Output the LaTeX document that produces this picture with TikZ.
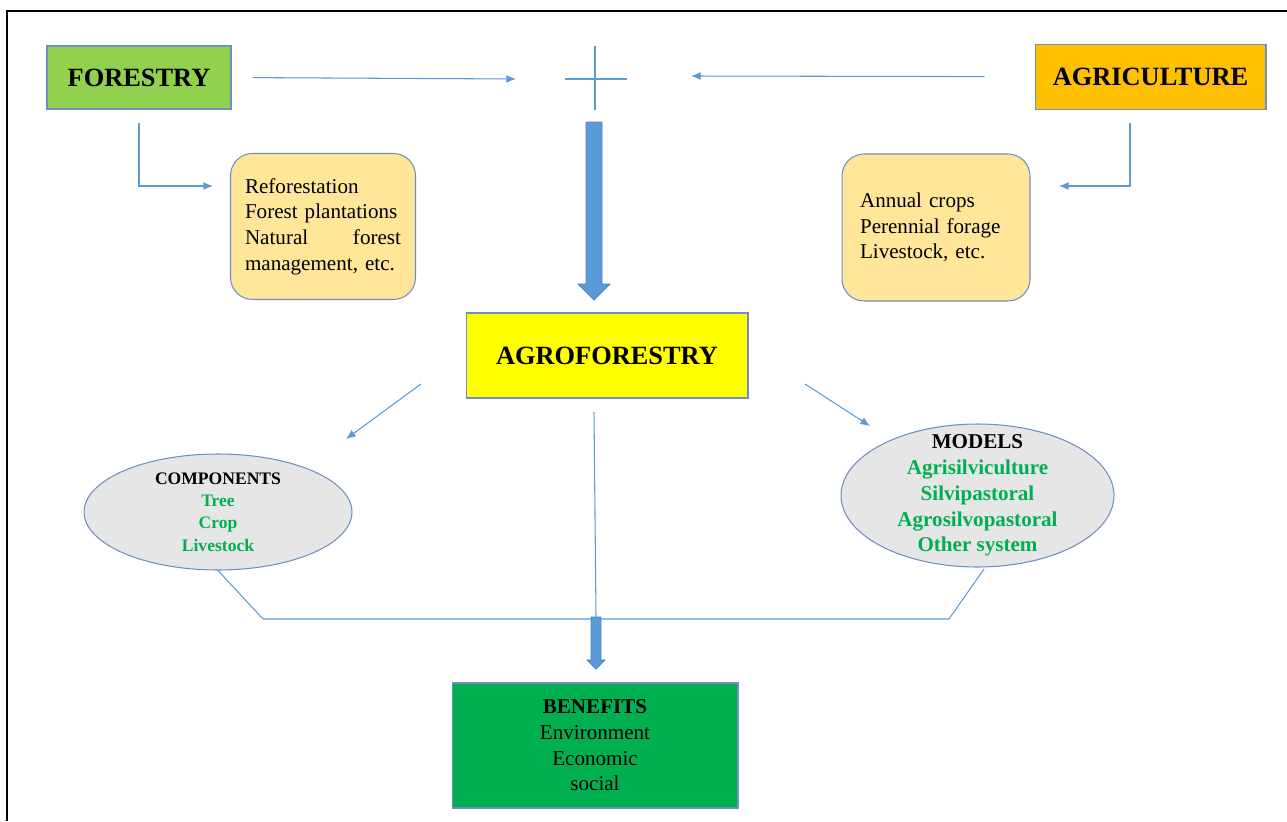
\documentclass[tikz,border=0pt]{standalone}
\usepackage{fontspec}
\setmainfont{Liberation Serif}
\usetikzlibrary{calc}
\usetikzlibrary{arrows.meta}
\usetikzlibrary{shapes.geometric}
\tikzset{>={Latex[length=5.5pt,width=4.5pt]}}
\definecolor{forestgreen}{HTML}{92D050}
\definecolor{agrigold}{HTML}{FFC000}
\definecolor{paleorange}{HTML}{FFE699}
\definecolor{agroyellow}{HTML}{FFFF00}
\definecolor{ellgray}{HTML}{E7E6E6}
\definecolor{benefitgreen}{HTML}{00B050}
\definecolor{textgreen}{HTML}{00B050}
\definecolor{linkblue}{HTML}{5B9BD5}
\definecolor{linkedge}{HTML}{4A86C0}
\definecolor{edgeblue}{HTML}{6F8FC0}
\tikzset{
	box/.style={draw=edgeblue,line width=0.6pt,inner sep=0pt},
	title/.style={font={\fontsize{15}{18}\selectfont\bfseries}},
	body/.style={font={\fontsize{12}{14.6}\selectfont}},
	link/.style={draw=linkblue,line width=0.6pt},
	fat/.style={fill=linkblue,draw=linkedge,line width=0.5pt},
	oval/.style={ellipse,draw=edgeblue,fill=ellgray,line width=0.6pt,inner xsep=0pt,align=center}
}

\begin{document}
\begin{tikzpicture}[x=0.02cm,y=-0.02cm]
		\useasboundingbox (0,0) rectangle (1287,821);
		\draw[line width=1.2pt] (7,821) -- (7,11) -- (1287,11);

		\node[box,title,fill=forestgreen,minimum width=3.68cm,minimum height=1.26cm] (forestry) at (139,77.5) {FORESTRY};
		\node[box,title,fill=agrigold,minimum width=4.62cm,minimum height=1.30cm] (agriculture) at (1150.5,76.7) {AGRICULTURE};
		\node[box,body,rounded corners=0.44cm,fill=paleorange,minimum height=2.92cm,text width=3.12cm,inner xsep=0.29cm,align=left] (forestuse) at (323,226.5) {Reforestation\\Forest plantations\\Natural\hfill forest\\management, etc.};
		\node[box,body,rounded corners=0.44cm,fill=paleorange,minimum height=2.94cm,text width=3.04cm,inner xsep=0.36cm,align=left] (agriuse) at (936,227.5) {Annual crops\\Perennial forage\\Livestock, etc.};
		\node[box,title,fill=agroyellow,minimum width=5.64cm,minimum height=1.70cm] (agroforestry) at (607,355.5) {AGROFORESTRY};
		\node[oval,inner ysep=-0.12cm,minimum width=5.36cm,minimum height=2.32cm,font={\fontsize{10}{12.75}\selectfont\bfseries}] (components) at (218,512) {COMPONENTS\\\textcolor{textgreen}{Tree}\\\textcolor{textgreen}{Crop}\\\textcolor{textgreen}{Livestock}};
		\node[oval,inner ysep=-0.32cm,minimum width=5.46cm,minimum height=2.86cm,font={\fontsize{12}{14.7}\selectfont\bfseries}] (models) at (977.5,495.5) {MODELS\\\textcolor{textgreen}{Agrisilviculture}\\\textcolor{textgreen}{Silvipastoral}\\\textcolor{textgreen}{Agrosilvopastoral}\\\textcolor{textgreen}{Other system}};
		\node[box,body,fill=benefitgreen,minimum width=5.72cm,minimum height=2.50cm,align=center] (benefits) at (595,745.5) {\textbf{BENEFITS}\\Environment\\Economic\\social};

		\coordinate (cross) at (595,79);
		\coordinate (crossW) at (516,79);
		\coordinate (crossE) at (691,76);
		\coordinate (forestIn) at (213,186);
		\coordinate (agriIn) at (1059,186);
		\coordinate (compFrom) at (421,384);
		\coordinate (compTo) at (346,439);
		\coordinate (modelFrom) at (805,384);
		\coordinate (modelTo) at (870,426);
		\coordinate (stemTop) at (594,412);
		\coordinate (stemBot) at (596,617);
		\coordinate (busL) at (263,619);
		\coordinate (busR) at (949,619);
		\coordinate (modelFoot) at (984,569);

		\draw[link] ($(cross)+(0,-33)$) -- ($(cross)+(0,31)$);
		\draw[link] ($(cross)+(-30,0)$) -- ($(cross)+(32,0)$);
		\draw[link,->,shorten <=0.42cm] (forestry.east) -- (crossW);
		\draw[link,->,shorten <=1.0cm] (agriculture.west) -- (crossE);
		\draw[link,->,shorten <=0.26cm] (forestry.south) |- (forestIn);
		\draw[link,->,shorten <=0.26cm] ($(agriculture.south)+(-20.5,0)$) |- (agriIn);
		\filldraw[fat] (594,122) ++(-8,0) -- ++(16,0) -- ++(0,162) -- ++(8,0) -- ++(-16,16) -- ++(-16,-16) -- ++(8,0) -- cycle;

		\draw[link,->] (compFrom) -- (compTo);
		\draw[link,->] (modelFrom) -- (modelTo);
		\draw[link] (stemTop) -- (stemBot);
		\draw[link] (components.south) -- (busL) -- (busR) -- (modelFoot);
		\filldraw[fat] (stemBot) ++(-5,0) -- ++(10,0) -- ++(0,43) -- ++(4,0) -- ++(-9,9) -- ++(-9,-9) -- ++(4,0) -- cycle;
	\end{tikzpicture}
\end{document}
